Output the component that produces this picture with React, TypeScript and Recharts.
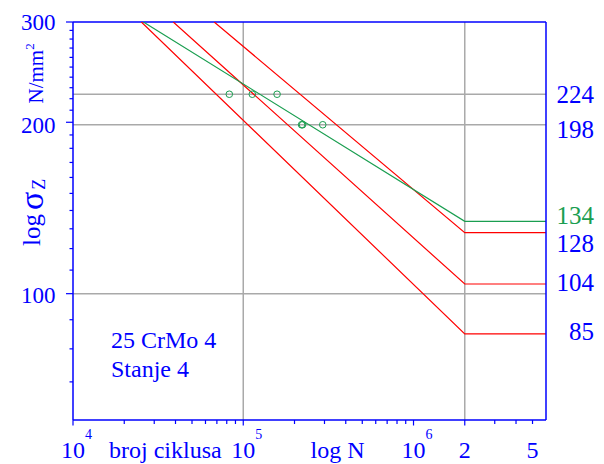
import { LineChart, Line, XAxis, YAxis, ReferenceLine } from 'recharts';

const BLUE = '#0000ff';
const RED = '#ff0000';
const GREEN = '#1a9e50';
const GRID = '#a9a9a9';
const FONT = '"Liberation Serif", "Times New Roman", serif';

// corners of each S-N line: cycles N and stress in N/mm2
const redLowN = [2.52e4, 2e6, 6e6];
const redLowS = [300, 85, 85];
const redMidN = [3.88e4, 2e6, 6e6];
const redMidS = [300, 104, 104];
const redHighN = [6.75e4, 2e6, 6e6];
const redHighS = [300, 128, 128];
const greenN = [2.59e4, 2e6, 6e6];
const greenS = [300, 134, 134];

// test results (circles)
const testN = [8.28e4, 1.13e5, 1.58e5, 2.2e5, 2.23e5, 2.93e5];
const testS = [224, 224, 224, 198, 198, 198];

// grid lines
const gridS = [224, 198, 100];
const gridN = [1e5, 2e6];

const xTicks = [
  1e4, 2e4, 3e4, 4e4, 5e4, 6e4, 7e4, 8e4, 9e4,
  1e5, 2e5, 3e5, 4e5, 5e5, 6e5, 7e5, 8e5, 9e5,
  1e6, 2e6, 3e6, 4e6, 5e6,
];
const xPowerLabels: Record<number, string> = { 10000: '4', 100000: '5', 1000000: '6' };
const xPlainLabels: Record<number, string> = { 2000000: '2', 5000000: '5' };

const yTicks = [
  70, 80, 90, 100, 110, 120, 130, 140, 150, 160, 170, 180, 190, 200,
  210, 220, 230, 240, 250, 260, 270, 280, 290, 300,
];
const yLabels = [100, 200, 300];

const rightTicks = [224, 198, 134, 128, 104, 85];

const rows = (ns: number[], ss: number[]) => ns.map((n, i) => ({ n, s: ss[i] }));

// label nudges (px) so the right-hand numbers don't collide
const rightDy: Record<number, number> = { 224: 9, 198: 13, 134: 3, 128: 19, 104: 7, 85: 6 };
const leftDy: Record<number, number> = { 300: 8, 200: 11, 100: 9 };

const BASE = 458; // baseline of the bottom labels

function LeftTick({ x, y, payload }: any) {
  const v = payload.value;
  const major = yLabels.includes(v);
  return (
    <g>
      <line x1={x} x2={x - (major ? 7 : 3.5)} y1={y} y2={y} stroke={BLUE} strokeWidth={1.2} />
      {major && (
        <text x={x - 17.5} y={y + leftDy[v]} textAnchor="end" fill={BLUE} fontSize={23} fontFamily={FONT}>
          {v}
        </text>
      )}
    </g>
  );
}

function RightTick({ x, y, payload }: any) {
  const v = payload.value;
  return (
    <text x={x + 48} y={y + rightDy[v]} textAnchor="end" fill={v === 134 ? GREEN : BLUE} fontSize={25} fontFamily={FONT}>
      {v}
    </text>
  );
}

function BottomTick({ x, y, payload }: any) {
  const v = payload.value;
  const pow = xPowerLabels[v];
  const plain = xPlainLabels[v];
  const major = pow !== undefined || v === 2e6;
  return (
    <g>
      <line x1={x} x2={x} y1={y} y2={y + (major ? 5.5 : 4)} stroke={BLUE} strokeWidth={1.2} />
      {(pow || plain) && (
        <g fill={BLUE} fontFamily={FONT}>
          <text x={x} y={BASE} textAnchor="middle" fontSize={24}>
            {pow ? '10' : plain}
          </text>
          {pow && (
            <text x={x + 12} y={BASE - 19} fontSize={14}>
              {pow}
            </text>
          )}
        </g>
      )}
    </g>
  );
}

export default function App() {
  return (
    <div style={{ position: 'absolute', left: 0, top: 0, width: 604, height: 464, background: '#fff' }}>
      <LineChart width={604} height={464} margin={{ top: 22, right: 0, bottom: 0, left: 0 }}>
        <XAxis
          dataKey="n"
          type="number"
          scale="log"
          domain={[1e4, 6e6]}
          allowDataOverflow
          ticks={xTicks}
          interval={0}
          height={44}
          tickSize={0}
          tickMargin={0}
          tickLine={false}
          axisLine={{ stroke: BLUE, strokeWidth: 1.5 }}
          tick={<BottomTick />}
        />
        <YAxis
          yAxisId="left"
          type="number"
          scale="log"
          domain={[60, 300]}
          allowDataOverflow
          ticks={yTicks}
          interval={0}
          width={73}
          tickSize={0}
          tickMargin={0}
          tickLine={false}
          axisLine={{ stroke: BLUE, strokeWidth: 1.5 }}
          tick={<LeftTick />}
        />
        <YAxis
          yAxisId="right"
          orientation="right"
          type="number"
          scale="log"
          domain={[60, 300]}
          allowDataOverflow
          ticks={rightTicks}
          interval={0}
          width={58}
          tickSize={0}
          tickMargin={0}
          tickLine={false}
          axisLine={{ stroke: BLUE, strokeWidth: 1.5 }}
          tick={<RightTick />}
        />
        {gridS.map((s) => (
          <ReferenceLine key={'gs' + s} yAxisId="left" y={s} stroke={GRID} strokeWidth={1.5} />
        ))}
        {gridN.map((n) => (
          <ReferenceLine key={'gn' + n} yAxisId="left" x={n} stroke={GRID} strokeWidth={1.5} />
        ))}
        <ReferenceLine yAxisId="left" y={300} stroke={BLUE} strokeWidth={1.5} />
        <Line data={rows(redLowN, redLowS)} yAxisId="left" dataKey="s" type="linear" stroke={RED} strokeWidth={1.2} dot={false} isAnimationActive={false} />
        <Line data={rows(redMidN, redMidS)} yAxisId="left" dataKey="s" type="linear" stroke={RED} strokeWidth={1.2} dot={false} isAnimationActive={false} />
        <Line data={rows(redHighN, redHighS)} yAxisId="left" dataKey="s" type="linear" stroke={RED} strokeWidth={1.2} dot={false} isAnimationActive={false} />
        <Line data={rows(greenN, greenS)} yAxisId="left" dataKey="s" type="linear" stroke={GREEN} strokeWidth={1.2} dot={false} isAnimationActive={false} />
        <Line
          data={rows(testN, testS)}
          yAxisId="left"
          dataKey="s"
          stroke="none"
          dot={{ r: 3.3, stroke: GREEN, strokeWidth: 1, fill: 'none' }}
          isAnimationActive={false}
        />
      </LineChart>
      <svg width={604} height={464} style={{ position: 'absolute', left: 0, top: 0, pointerEvents: 'none' }}>
        <g fill={BLUE} fontFamily={FONT}>
          <text transform="translate(43 103.5) rotate(-90)" fontSize={21}>
            N/mm<tspan dy={-9} fontSize={13}>2</tspan>
          </text>
          <text transform="translate(40 246) rotate(-90)">
            <tspan fontSize={25}>log</tspan>
            <tspan fontSize={34} dx={4} dy={3}>σ</tspan>
            <tspan fontSize={18} dx={2} dy={2}>Z</tspan>
          </text>
          <text x={111} y={348} fontSize={24}>25 CrMo 4</text>
          <text x={111} y={377} fontSize={24}>Stanje 4</text>
          <text x={109} y={BASE} fontSize={24}>broj ciklusa</text>
          <text x={310.5} y={BASE} fontSize={24}>log N</text>
        </g>
      </svg>
    </div>
  );
}
